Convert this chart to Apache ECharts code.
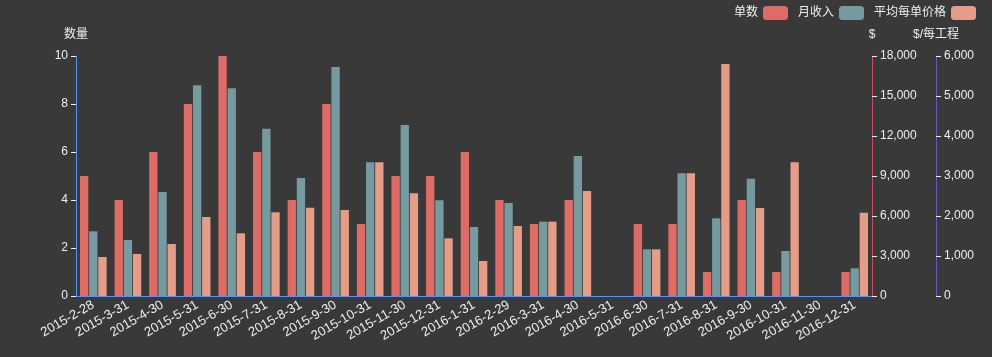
<!DOCTYPE html>
<html><head><meta charset="utf-8">
<script src="https://cdn.jsdelivr.net/npm/echarts@6/dist/echarts.min.js"></script>
<style>html,body{margin:0;padding:0;background:#393939;}#c{width:992px;height:357px;}</style>
</head><body><div id="c"></div>
<script>
const categories = ['2015-2-28','2015-3-31','2015-4-30','2015-5-31','2015-6-30','2015-7-31','2015-8-31','2015-9-30','2015-10-31','2015-11-30','2015-12-31','2016-1-31','2016-2-29','2016-3-31','2016-4-30','2016-5-31','2016-6-30','2016-7-31','2016-8-31','2016-9-30','2016-10-31','2016-11-30','2016-12-31'];
const orders = [5,4,6,8,10,6,4,8,3,5,5,6,4,3,4,0,3,3,1,4,1,0,1];
const revenue = [4850,4200,7800,15800,15575,12550,8850,17175,10025,12825,7175,5175,6975,5575,10500,0,3500,9200,5825,8800,3375,0,2075];
const avgPrice = [975,1050,1300,1975,1567,2092,2208,2150,3342,2567,1442,875,1750,1858,2625,0,1167,3067,5800,2200,3342,0,2083];
const legendNames = ['单数','月收入','平均每单价格'];
const axisNames = ['数量','$','$/每工程'];

const font = "'Helvetica Neue','Liberation Sans','Noto Sans CJK SC',sans-serif";
const txt = '#eeeeee';
const chart = echarts.init(document.getElementById('c'), null, {renderer:'canvas'});
function yAx(name, max, interval, color, pos, offset){
  return {type:'value', name:name, min:0, max:max, interval:interval, position:pos, offset:offset,
    nameTextStyle:{color:txt, fontFamily:font, fontSize:12},
    axisLine:{show:true, lineStyle:{color:color}},
    axisTick:{show:true, lineStyle:{color:txt}},
    axisLabel:{color:txt, fontFamily:font, fontSize:12},
    splitLine:{show:false}};
}
chart.setOption({
  backgroundColor:'#393939',
  animation:false,
  color:['#dd6b66','#759aa0','#e69d87'],
  textStyle:{fontFamily:font},
  legend:{data:legendNames, right:11, top:1, itemWidth:25, itemHeight:14, itemGap:10, align:'right',
    textStyle:{color:txt, fontFamily:font, fontSize:12}},
  grid:{left:76, right:120, top:56, bottom:61},
  xAxis:{type:'category', data:categories,
    axisLine:{lineStyle:{color:'#5793f3'}},
    axisTick:{lineStyle:{color:txt}},
    axisLabel:{rotate:30, interval:0, color:txt, fontFamily:font, fontSize:13},
    splitLine:{show:false}},
  yAxis:[
    yAx(axisNames[0],10,2,'#5793f3','left',0),
    yAx(axisNames[1],18000,3000,'#d14a61','right',0),
    yAx(axisNames[2],6000,1000,'#675bba','right',64)
  ],
  series:[
    {name:legendNames[0], type:'bar', yAxisIndex:0, data:orders},
    {name:legendNames[1], type:'bar', yAxisIndex:1, data:revenue},
    {name:legendNames[2], type:'bar', yAxisIndex:2, data:avgPrice}
  ]
});
</script></body></html>
